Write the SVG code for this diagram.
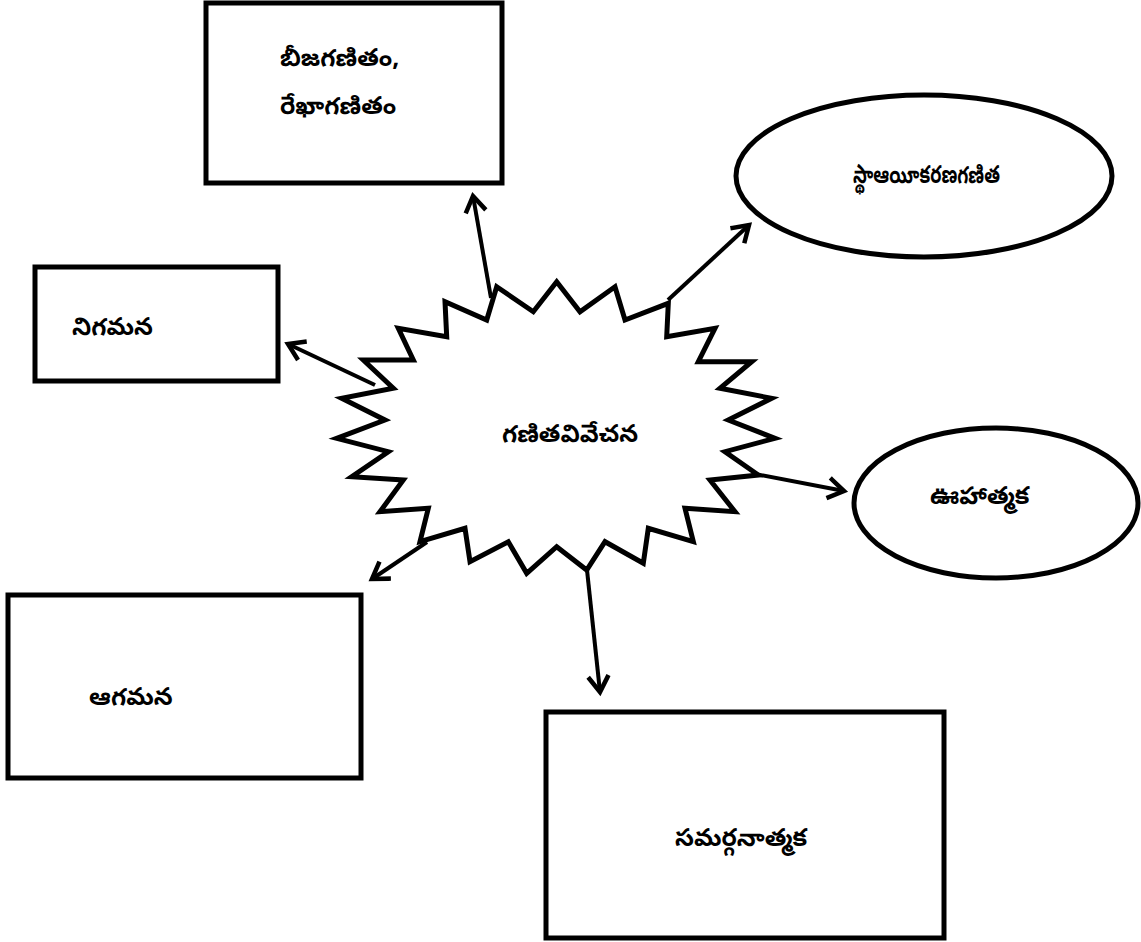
<svg xmlns="http://www.w3.org/2000/svg" width="1141" height="942" viewBox="0 0 1141 942">
<defs>
<marker id="arr" markerUnits="userSpaceOnUse" markerWidth="30" markerHeight="30" refX="0" refY="0" viewBox="-20 -15 25 30" orient="auto">
<path d="M-14,-9 L0,0 L-14,9" fill="none" stroke="#000" stroke-width="4.5" stroke-linecap="square"/>
</marker>
</defs>
<style>
.box{fill:#fff;stroke:#000;stroke-width:5}
.lbl{font-family:"Noto Sans Telugu","Noto Sans","DejaVu Sans",sans-serif;font-size:24.5px;font-weight:bold;fill:#000}
.con{stroke:#000;stroke-width:4;fill:none;marker-end:url(#arr)}
</style>
<rect width="1141" height="942" fill="#fff"/>
<g id="connectors">
<line class="con" x1="491" y1="298" x2="473" y2="196"/>
<line class="con" x1="668" y1="300" x2="749" y2="225"/>
<line class="con" x1="375" y1="385" x2="288" y2="344"/>
<line class="con" x1="755" y1="474" x2="844" y2="491"/>
<line class="con" x1="427" y1="542" x2="372" y2="579"/>
<line class="con" x1="587" y1="570" x2="600" y2="692"/>
</g>
<g id="center">
<polygon class="box" points="496.7,286.7 533.3,311.7 556.7,281.7 580,311.7 615,286.7 625,320 668.3,303.3 666.7,336.7 715,328.3 698.3,361.7 751.7,361.7 720,388.3 771.7,398.3 728.3,420 775,438.3 725,451.7 758.3,475 710,480 735,511.7 685,508.3 693.3,541.7 648.3,528.3 643.3,563.3 605,541.7 586.7,570 556.7,546.7 526.7,573.3 508.3,541.7 470,561.7 465,528.3 420,541.7 428.3,508.3 380,511.7 403.3,480 351.7,476.7 388.3,451.7 336.7,438.3 385,420 341.7,398.3 393.3,388.3 363.3,360 413.3,360 398.3,328.3 446.7,336.7 445,301.7 486.7,320"/>
<text class="lbl" x="502" y="442">గణితవివేచన</text>
</g>
<g id="algebra">
<rect class="box" x="206" y="3" width="296" height="180"/>
<text class="lbl" x="280" y="66">బీజగణితం,</text>
<text class="lbl" x="280" y="114">రేఖాగణితం</text>
</g>
<g id="topology">
<ellipse class="box" cx="924" cy="176" rx="188" ry="81"/>
<text class="lbl" x="853" y="183" textLength="147" lengthAdjust="spacingAndGlyphs">స్థాఆయీకరణగణిత</text>
</g>
<g id="nigamana">
<rect class="box" x="35" y="267" width="243" height="114" stroke-width="4"/>
<text class="lbl" x="72" y="335">నిగమన</text>
</g>
<g id="uhatmaka">
<ellipse class="box" cx="996" cy="503" rx="142" ry="75"/>
<text class="lbl" x="930" y="504">ఊహాత్మక</text>
</g>
<g id="agamana">
<rect class="box" x="8" y="595" width="353" height="183"/>
<text class="lbl" x="89" y="705">ఆగమన</text>
</g>
<g id="samagra">
<rect class="box" x="546" y="712" width="398" height="226"/>
<text class="lbl" x="675" y="846">సమర్గనాత్మక</text>
</g>
</svg>
